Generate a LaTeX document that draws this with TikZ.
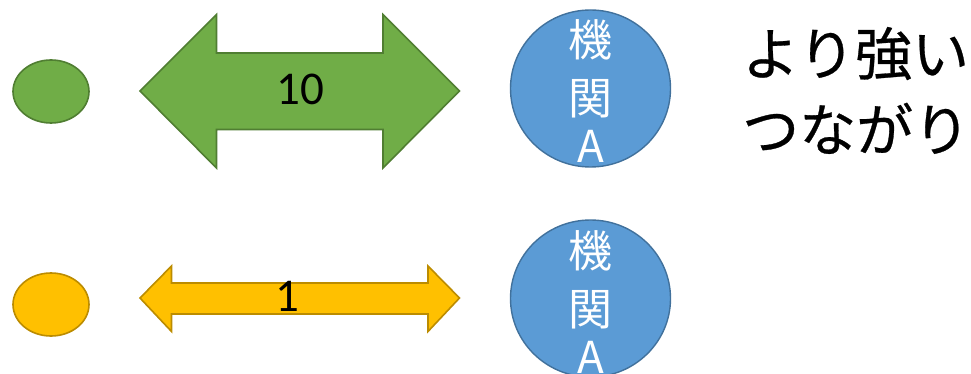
\documentclass[tikz,border=0pt]{standalone}
\usepackage{fontspec}
\usetikzlibrary{shapes.geometric}
\newfontfamily\cjk{Noto Sans CJK JP}
\newfontfamily\cjkheavy[FakeBold=0.5]{Noto Sans CJK JP}
\newfontfamily\calib{Carlito}
\definecolor{gfill}{HTML}{70AD47}
\definecolor{gline}{HTML}{507E32}
\definecolor{yfill}{HTML}{FFC000}
\definecolor{yline}{HTML}{BC8C00}
\definecolor{bfill}{HTML}{5B9BD5}
\definecolor{bline}{HTML}{41719C}
\begin{document}
\begin{tikzpicture}[x=1pt,y=-1pt,
  greenshape/.style={fill=gfill,draw=gline,line width=1.6pt},
  yellowshape/.style={fill=yfill,draw=yline,line width=1.6pt},
  blueshape/.style={fill=bfill,draw=bline,line width=1.4pt},
  dot/.style={ellipse,minimum width=76pt,minimum height=63pt,inner sep=0pt},
  organ/.style={ellipse,minimum width=160pt,minimum height=157pt,inner sep=0pt},
  orglabel/.style={text=white,font=\cjk\fontsize{44}{44}\selectfont,anchor=base,inner sep=0pt},
  numlabel/.style={font=\calib\fontsize{47}{47}\selectfont,inner sep=0pt},
  jplabel/.style={font=\cjkheavy\fontsize{57}{57}\selectfont,anchor=base west,inner sep=0pt}]
\useasboundingbox (0,0) rectangle (971,374);
\clip (0,0) rectangle (971,374);
% top row
\node[dot,greenshape] (g) at (51,91.5) {};
\draw[greenshape] (140,91) -- (216.5,14.5) -- (216.5,53) -- (383,53) -- (383,14.5) -- (459.5,91)
  -- (383,168) -- (383,129.5) -- (216.5,129.5) -- (216.5,168) -- cycle;
\node[numlabel] (ten) at (300,89) {10};
\node[organ,blueshape] (a1) at (590.5,88.5) {};
\node[orglabel] (a1k) at (590.5,57) {機};
\node[orglabel] (a1s) at (590.5,115) {関};
\node[orglabel] (a1a) at (590.5,163) {A};
\node[jplabel] (t1) at (742,75) {より強い};
\node[jplabel] (t2) at (742,151) {つながり};
% bottom row
\node[dot,yellowshape] (y) at (51,304.5) {};
\draw[yellowshape] (140,298) -- (171.5,266) -- (171.5,283) -- (428,283) -- (428,266) -- (459.5,298)
  -- (428,331.5) -- (428,314) -- (171.5,314) -- (171.5,331.5) -- cycle;
\node[numlabel] (one) at (287,296) {1};
\node[organ,blueshape] (a2) at (590.5,298.5) {};
\node[orglabel] (a2k) at (590.5,267) {機};
\node[orglabel] (a2s) at (590.5,325) {関};
\node[orglabel] (a2a) at (590.5,373) {A};
\end{tikzpicture}
\end{document}
